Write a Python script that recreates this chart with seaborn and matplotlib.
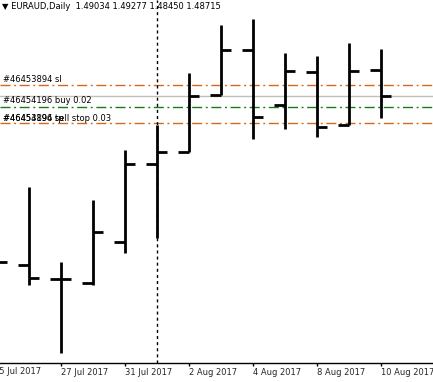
import matplotlib
matplotlib.use("Agg")
import matplotlib.pyplot as plt
import matplotlib.transforms as mtransforms
import seaborn as sns
import pandas as pd

# EURAUD daily bars, 25 Jul - 10 Aug 2017
dates = ["25 Jul 2017", "26 Jul 2017", "27 Jul 2017", "28 Jul 2017", "31 Jul 2017",
         "1 Aug 2017", "2 Aug 2017", "3 Aug 2017", "4 Aug 2017", "7 Aug 2017",
         "8 Aug 2017", "9 Aug 2017", "10 Aug 2017"]
opens = [1.4640, 1.46692, 1.46524, 1.46476, 1.46968, 1.47903, 1.48047,
         1.48731, 1.49270, 1.48611, 1.49006, 1.48371, 1.49034]
highs = [1.4700, 1.47628, 1.46728, 1.47472, 1.48071, 1.48371, 1.48994,
         1.49570, 1.49642, 1.49234, 1.49198, 1.49354, 1.49277]
lows = [1.4600, 1.46453, 1.45637, 1.46453, 1.46836, 1.47016, 1.48047,
        1.48731, 1.48203, 1.48323, 1.48227, 1.48371, 1.48450]
closes = [1.46728, 1.46536, 1.46530, 1.47088, 1.47903, 1.48047, 1.48719,
          1.49270, 1.48467, 1.49018, 1.48347, 1.49018, 1.48715]

# order levels
sl_level = 1.48847
buy_level = 1.48590
sellstop_level = 1.48391
bid_level = closes[-1]
separator_date = "1 Aug 2017"

title = "\u25bc EURAUD,Daily  1.49034 1.49277 1.48450 1.48715"

df = pd.DataFrame({"date": dates, "open": opens, "high": highs,
                   "low": lows, "close": closes})
df["i"] = range(len(df))

sns.set_theme(style="white")
plt.rcParams["font.family"] = ["DejaVu Sans"]

fig = plt.figure(figsize=(4.33, 3.82), dpi=100)
ax = fig.add_axes([0, 19 / 382, 1, 363 / 382])

orange = "#d2691e"
green = "#1a7a1a"
dash_dot = (0, (7.2, 2.6, 1.4, 2.6))
fs = 6.0

ax.axhline(bid_level, color="#c0c0c0", lw=1, zorder=1)
ax.axhline(sl_level, color=orange, lw=1, ls=dash_dot, zorder=1)
ax.axhline(buy_level, color=green, lw=1, ls=dash_dot, zorder=1)
ax.axhline(sellstop_level, color=orange, lw=1, ls=dash_dot, zorder=1)

# period separator
sep_i = dates.index(separator_date)
ax.axvline(sep_i, color="black", lw=1, ls=(0, (2.2, 2.2)), zorder=2)

# OHLC bars
tick = 0.33
ax.vlines(df["i"], df["low"], df["high"], color="black", lw=2, zorder=3)
ax.hlines(df["open"], df["i"] - tick, df["i"], color="black", lw=2, zorder=3)
ax.hlines(df["close"], df["i"], df["i"] + tick, color="black", lw=2, zorder=3)

# order labels
trans = mtransforms.blended_transform_factory(ax.transAxes, ax.transData)
lab_kw = dict(xycoords=trans, textcoords="offset points", fontsize=fs,
              color="black", va="center", ha="left")
ax.annotate("#46453894 sl", (0.007, sl_level), xytext=(0, 4.2), **lab_kw)
ax.annotate("#46454196 buy 0.02", (0.007, buy_level), xytext=(0, 4.2), **lab_kw)
ax.annotate("#46453894 tp", (0.007, sellstop_level), xytext=(0, 3.8), **lab_kw)
ax.annotate("#46454196 sell stop 0.03", (0.007, sellstop_level), xytext=(0, 3.8), **lab_kw)

ax.text(0.004, 0.981, title, transform=ax.transAxes, fontsize=fs,
        va="center", ha="left", color="black")

# axis
for s in ["left", "right", "top"]:
    ax.spines[s].set_visible(False)
ax.spines["bottom"].set_color("black")
ax.spines["bottom"].set_linewidth(1)
ax.set_yticks([])
ax.set_xticks(df["i"][2::2])
ax.set_xticklabels(df["date"][2::2], ha="left", fontsize=fs)
ax.tick_params(axis="x", direction="out", length=2.3, width=1, color="black",
               pad=1.2, bottom=True)
ax.grid(False)

# limits after ticks so they are not widened
ax.set_xlim(0.103, 13.634)
ax.set_ylim(1.455173, 1.498696)

# first date label sits left of the visible area and is cut by the edge
xtrans = mtransforms.blended_transform_factory(ax.transData, ax.transAxes)
ax.annotate(df["date"][0], (df["i"][0], 0), xycoords=xtrans,
            textcoords="offset points", xytext=(-2.0, -3.2), fontsize=fs,
            ha="left", va="top", annotation_clip=False)

fig.savefig("out.png", dpi=100, facecolor="white")
